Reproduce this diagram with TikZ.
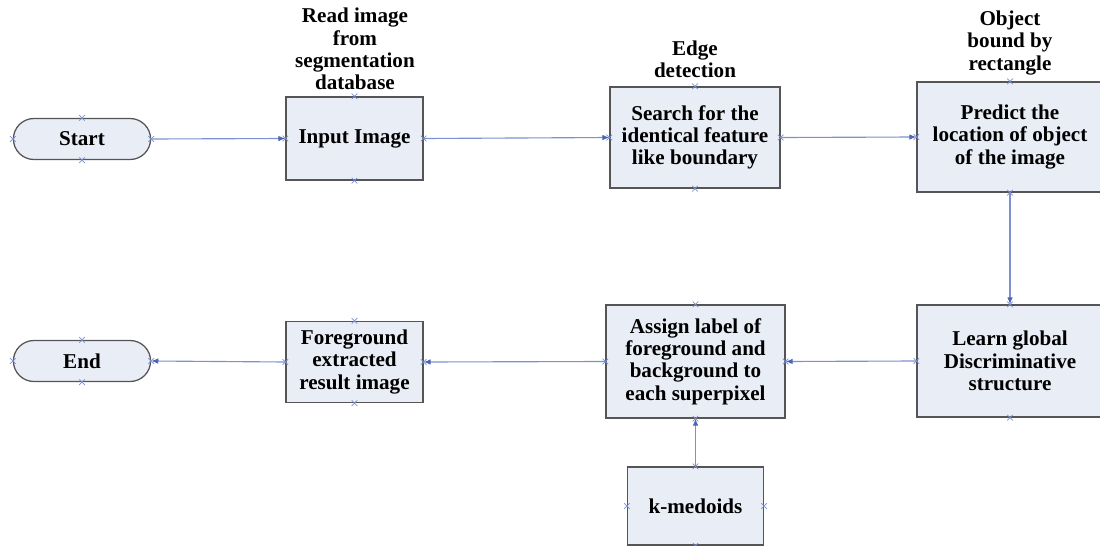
\documentclass[tikz,border=0pt]{standalone}
\usepackage{fontspec}
\setmainfont{Liberation Serif}
\usetikzlibrary{arrows.meta,shapes.misc}

\definecolor{linkblue}{HTML}{7D90CF}
\definecolor{tipblue}{HTML}{4F64B4}
\definecolor{boxfill}{HTML}{E9EDF6}
\definecolor{boxline}{HTML}{555555}

\tikzset{
  stepbox/.style={draw=boxline, fill=boxfill, line width=0.9pt, align=center, inner sep=1pt,
    font=\fontsize{15}{15.8}\selectfont\bfseries},
  termbox/.style={stepbox, rounded rectangle},
  note/.style={align=center, font=\fontsize{15}{15.8}\selectfont\bfseries},
  link/.style={draw=linkblue, line width=0.8pt, -{Latex[length=5pt,width=4pt,color=tipblue]}},
  cpoint/.style={draw=linkblue, line width=0.5pt}
}

\begin{document}
\begin{tikzpicture}[x=0.025cm, y=-0.025cm]
\useasboundingbox (0,0) rectangle (1100,546);

% steps of the flow
\node[termbox, minimum width=140*0.025cm, minimum height=41*0.025cm] (start) at (82,139) {Start};
\node[stepbox, minimum width=137*0.025cm, minimum height=83*0.025cm] (input) at (354.5,138.5) {Input Image};
\node[stepbox, minimum width=170*0.025cm, minimum height=101*0.025cm] (search) at (695,137.5) {Search for the\\identical feature\\like boundary};
\node[stepbox, minimum width=186*0.025cm, minimum height=110*0.025cm] (predict) at (1010,137) {Predict the\\location of object\\of the image};
\node[stepbox, minimum width=186*0.025cm, minimum height=112*0.025cm] (learn) at (1010,361) {Learn global\\Discriminative\\structure};
\node[stepbox, minimum width=179*0.025cm, minimum height=113*0.025cm] (assign) at (695.5,361.5) {Assign label of\\foreground and\\background to\\each superpixel};
\node[stepbox, minimum width=136*0.025cm, minimum height=78*0.025cm] (kmed) at (695.5,506) {k-medoids};
\node[stepbox, minimum width=137*0.025cm, minimum height=81*0.025cm] (fground) at (354.5,362) {Foreground\\extracted\\result image};
\node[termbox, minimum width=140*0.025cm, minimum height=41*0.025cm] (end) at (82,361) {End};

% notes above the first row
\node[note] (readnote) at (355,49) {Read image\\from\\segmentation\\database};
\node[note] (edgenote) at (695,59) {Edge\\detection};
\node[note] (boundnote) at (1010,43) {Object\\bound by\\rectangle};

% connectors
\draw[link] (start.east) -- (input.west);
\draw[link] (input.east) -- (search.west);
\draw[link] (search.east) -- (predict.west);
\draw[link] (predict.south) -- (learn.north);
\draw[link] (learn.west) -- (assign.east);
\draw[link] (assign.west) -- (fground.east);
\draw[link] (fground.west) -- (end.east);
\draw[link] (kmed.north) -- (assign.south);

% connection points
\foreach \n in {start,input,search,predict,learn,assign,kmed,fground,end}
  \foreach \s in {north,south,east,west}
    \draw[cpoint] ([xshift=-2pt,yshift=-2pt]\n.\s) -- ([xshift=2pt,yshift=2pt]\n.\s)
                  ([xshift=-2pt,yshift=2pt]\n.\s) -- ([xshift=2pt,yshift=-2pt]\n.\s);
\end{tikzpicture}
\end{document}
